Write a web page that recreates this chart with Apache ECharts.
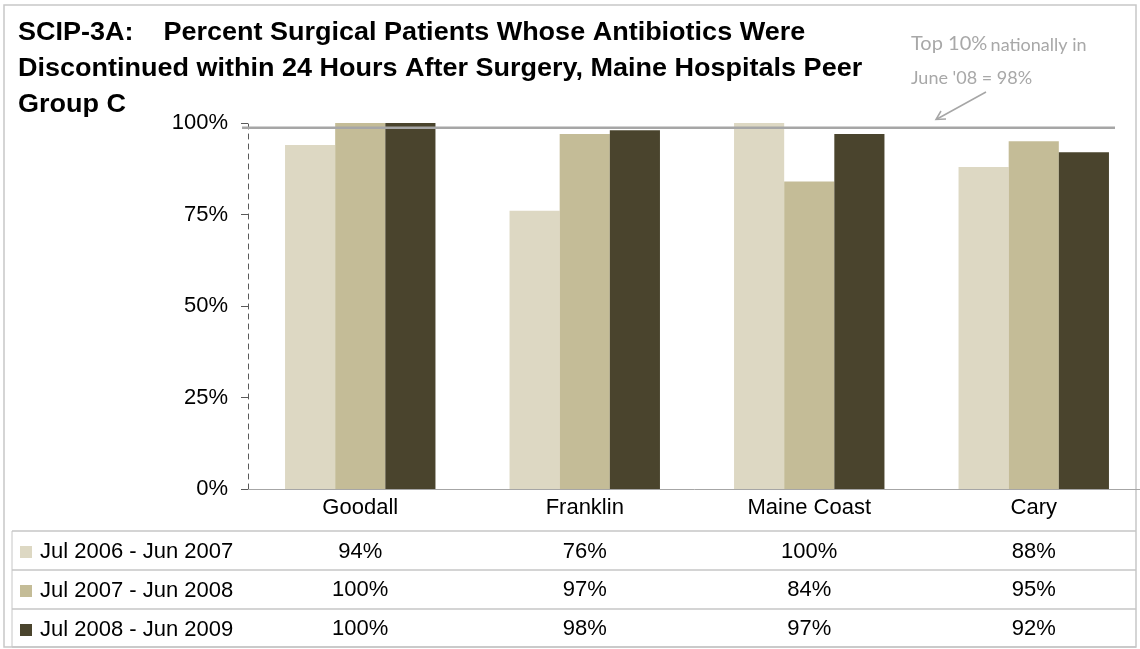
<!DOCTYPE html>
<html>
<head>
<meta charset="utf-8">
<script src="https://cdn.jsdelivr.net/npm/echarts/dist/echarts.min.js"></script>
<style>
  html, body { margin: 0; padding: 0; background: #fff; }
  #chart { width: 1140px; height: 649px; }
</style>
</head>
<body>
<div id="chart"></div>
<script>
const hospitals = ["Goodall", "Franklin", "Maine Coast", "Cary"];
const periods = ["Jul 2006 - Jun 2007", "Jul 2007 - Jun 2008", "Jul 2008 - Jun 2009"];
const fy2007 = [94, 76, 100, 88];
const fy2008 = [100, 97, 84, 95];
const fy2009 = [100, 98, 97, 92];
const yTicks = [0, 25, 50, 75, 100];
// benchmark line, drawn a touch above 98 in the original
const topTenPct = 98.7;

const colors = ["#ddd8c3", "#c4bc97", "#4a442d"];
const font = "'Liberation Sans', Arial, sans-serif";
const noteColor = "#a8a8a8";
const tableLine = "#c6c6c6";
const rowCenters = [552, 591, 630];

const chart = echarts.init(document.getElementById("chart"));

// one extra x axis per table row, so each value sits under its own column
const rowAxis = (vals, offset, margin) => ({
  type: "category",
  data: hospitals,
  position: "bottom",
  offset,
  axisLine: { show: false },
  axisTick: { show: false },
  splitLine: { show: false },
  axisLabel: {
    margin,
    interval: 0,
    color: "#000",
    fontSize: 22,
    fontFamily: font,
    verticalAlign: "middle",
    formatter: (v, i) => vals[i] + "%",
  },
});

const option = {
  animation: false,
  backgroundColor: "#fff",
  // row headers of the data table
  legend: periods.map((p, i) => ({
    orient: "vertical",
    left: 20,
    top: rowCenters[i] - 11,
    padding: 0,
    itemWidth: 12,
    itemHeight: 12,
    icon: "rect",
    selectedMode: false,
    data: [p],
    textStyle: { fontFamily: font, fontSize: 22, color: "#000", lineHeight: 22, padding: [0, 0, 0, 3] },
  })),
  grid: { left: 248, right: -6, top: 123, bottom: 160, containLabel: false, outerBoundsMode: "none" },
  xAxis: [
    {
      type: "category",
      data: hospitals,
      position: "bottom",
      axisLine: { lineStyle: { color: "#a6a6a6", width: 1 } },
      axisTick: { length: 158, lineStyle: { color: tableLine, width: 1 } },
      axisLabel: { margin: 19, interval: 0, color: "#000", fontSize: 22, fontFamily: font, verticalAlign: "middle" },
      splitLine: { show: false },
    },
    rowAxis(fy2007, 42, 21),
    rowAxis(fy2008, 81, 20),
    rowAxis(fy2009, 120, 20),
  ],
  yAxis: {
    type: "value",
    min: yTicks[0],
    max: yTicks[yTicks.length - 1],
    interval: 25,
    axisLine: { show: true, lineStyle: { color: "#595959", width: 1, type: [5, 5] } },
    axisTick: { show: true, length: 7, lineStyle: { color: "#595959" } },
    axisLabel: { margin: 20, color: "#000", fontSize: 22, fontFamily: font, formatter: "{value}%" },
    splitLine: { show: false },
  },
  series: [fy2007, fy2008, fy2009].map((vals, i) => ({
    name: periods[i],
    type: "bar",
    data: vals,
    barGap: "0%",
    barCategoryGap: "33%",
    itemStyle: { color: colors[i] },
  })),
};

chart.setOption(option);

const refY = chart.convertToPixel({ yAxisIndex: 0 }, topTenPct);
const rows = [531, 570, 609, 647];

chart.setOption({
  graphic: [
    // outer frame
    { type: "rect", shape: { x: 4, y: 5, width: 1132, height: 642 }, style: { fill: null, stroke: "#c8c8c8", lineWidth: 1.5 }, silent: true },
    // title, slightly wide like the original
    {
      type: "text",
      x: 18,
      y: 15,
      scaleX: 1.08,
      silent: true,
      style: {
        text: "SCIP-3A:    Percent Surgical Patients Whose Antibiotics Were\nDiscontinued within 24 Hours After Surgery, Maine Hospitals Peer\nGroup C",
        font: "bold 25px 'Liberation Sans', Arial, sans-serif",
        lineHeight: 36,
        fill: "#000",
      },
    },
    // benchmark note
    {
      type: "text",
      x: 911,
      y: 44,
      silent: true,
      style: {
        text: "{a|Top 10%} {b|nationally in}",
        verticalAlign: "middle",
        rich: {
          a: { fontFamily: "Lato", fontSize: 20, fill: noteColor, verticalAlign: "bottom" },
          b: { fontFamily: "Lato", fontSize: 18, fill: noteColor, verticalAlign: "bottom" },
        },
      },
    },
    {
      type: "text",
      x: 911,
      y: 78,
      silent: true,
      style: { text: "June '08 = 98%", verticalAlign: "middle", font: "18px Lato", fill: noteColor },
    },
    // table rules
    { type: "line", shape: { x1: 12, y1: rows[0], x2: 12, y2: rows[3] }, style: { stroke: tableLine, lineWidth: 1 }, silent: true },
    ...rows.map((y) => ({
      type: "line",
      shape: { x1: 12, y1: y, x2: 1136, y2: y },
      style: { stroke: tableLine, lineWidth: 1.5 },
      silent: true,
    })),
    // benchmark line and its callout arrow
    { type: "line", shape: { x1: 242, y1: refY, x2: 1115, y2: refY }, style: { stroke: "#a6a6a6", lineWidth: 2.5 }, silent: true, z: 10 },
    { type: "line", shape: { x1: 986, y1: 92, x2: 937, y2: 119 }, style: { stroke: "#a6a6a6", lineWidth: 1.5 }, silent: true },
    { type: "polyline", shape: { points: [[946, 119], [936, 119.5], [941, 111]] }, style: { stroke: "#a6a6a6", lineWidth: 1.5, fill: null }, silent: true },
  ],
});
</script>
</body>
</html>
